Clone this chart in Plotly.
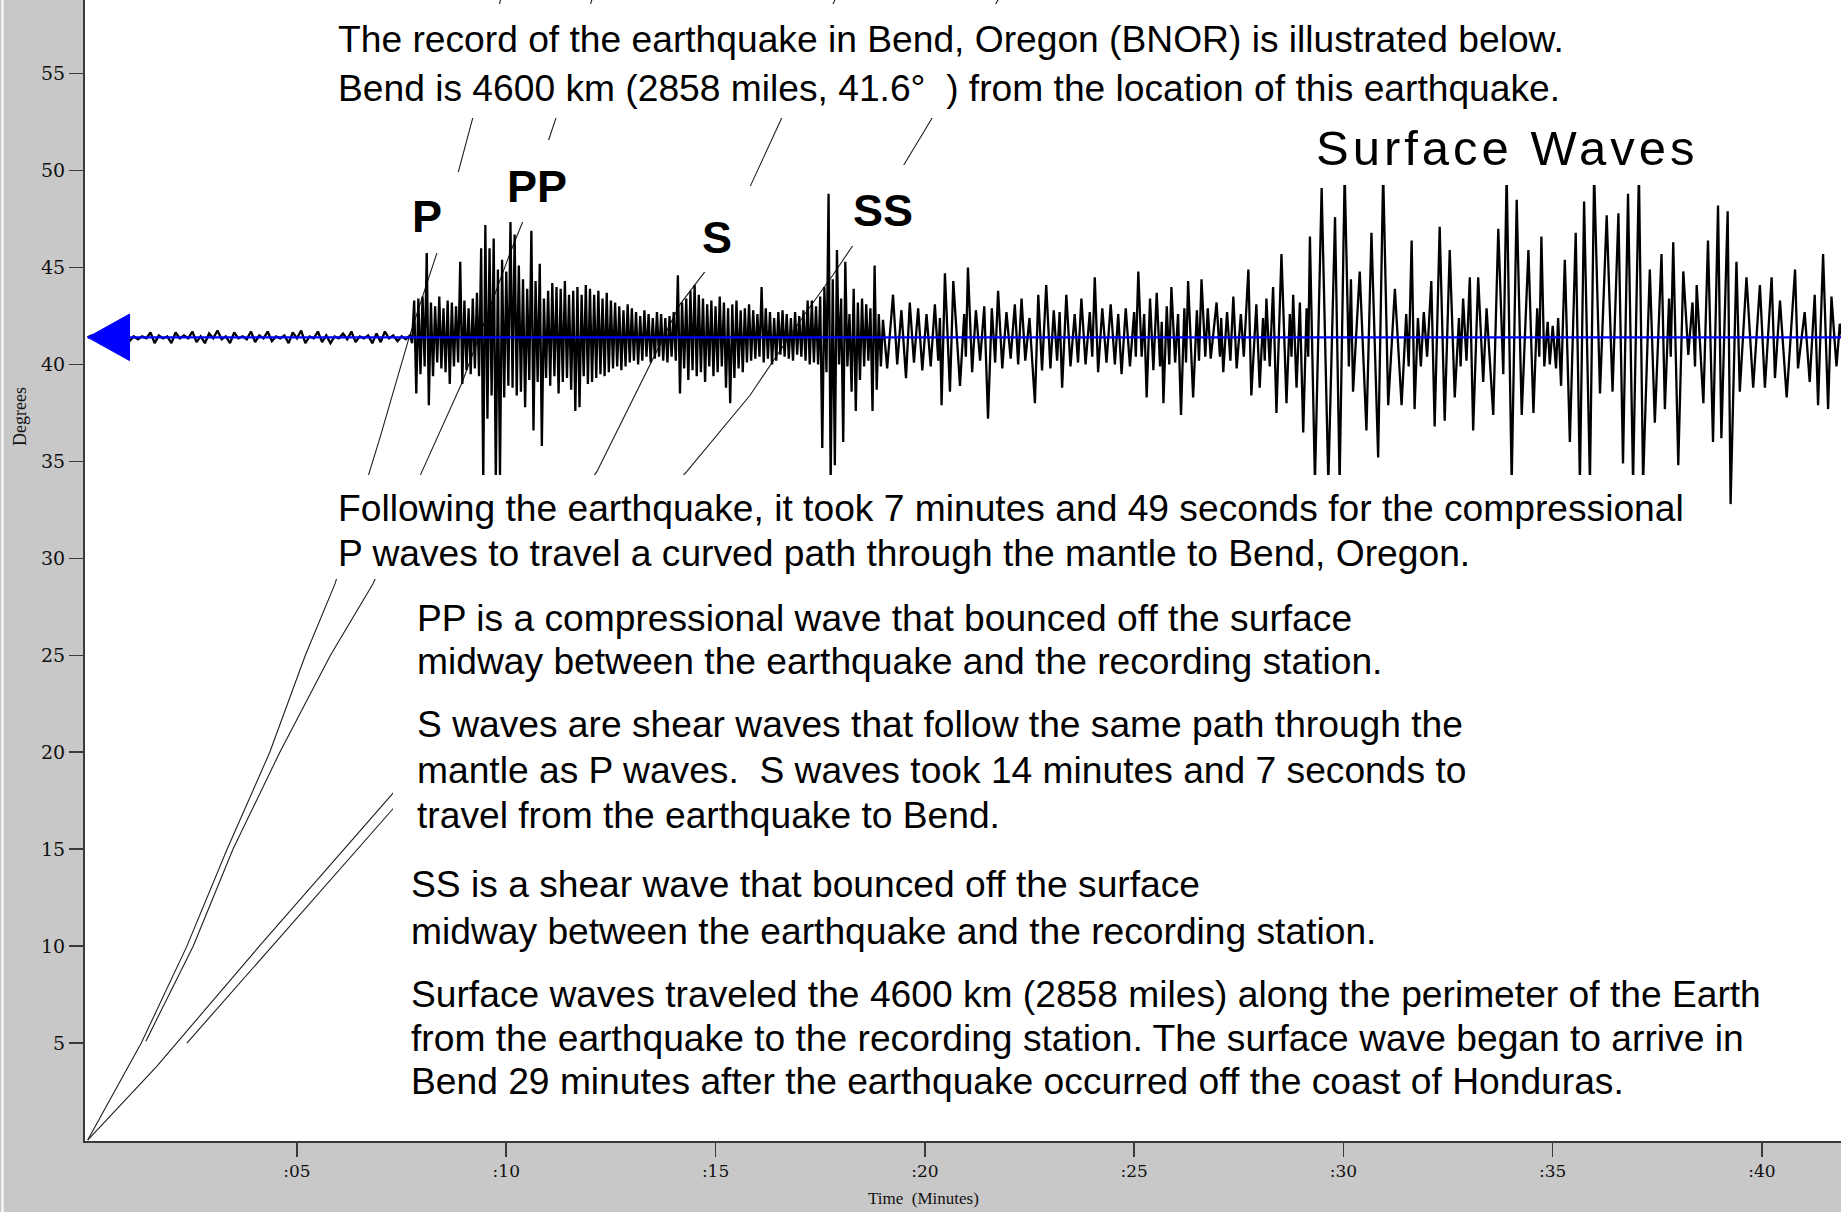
import plotly.graph_objects as go

# ---------------- data ----------------
BASE_DEG = 41.4          # station distance marker line (Bend, 41.6 deg)

# pre-P background noise, from 0.0 min every 0.1 min (offset in degrees)
noise_amp = [0.0, 0.1, -0.05, 0.2, -0.25, 0.05, -0.05, 0.1, -0.05, 0.3,
             -0.2, 0.05, -0.1, 0.05, -0.05, 0.25, -0.3, 0.1, -0.05, 0.05,
             -0.3, 0.25, -0.05, 0.1, -0.05, 0.3, -0.25, 0.05, -0.3, 0.2,
             -0.05, 0.35, -0.1, 0.05, -0.3, 0.25, -0.05, 0.05, -0.1, 0.3,
             -0.25, 0.1, -0.05, 0.3, -0.2, 0.05, -0.05, 0.1, -0.3, 0.25,
             -0.05, 0.35, -0.3, 0.05, -0.05, 0.3, -0.25, 0.1, -0.3, 0.05,
             -0.05, 0.2, -0.1, 0.3, -0.25, 0.05, -0.05, 0.1, -0.3, 0.2,
             -0.25, 0.3, -0.05, 0.1, -0.2, 0.05, -0.1]
NOISE_DT = 0.1

# P onset through SS, from 7.70 min every 0.05 min
CODA_T0 = 7.70
CODA_DT = 0.05
coda_amp = [
    0.1, -0.3, 1.9, -2.9, 2.0, -1.9, 2.1, -1.5, 4.4, -3.5, 1.8, -2.0, 1.6, -1.3, 2.1, -1.6, 1.5, -1.8, 1.9, -2.4,
    1.8, -1.5, 1.6, -1.3, 3.9, -2.4, 1.9, -1.7, 1.5, -1.9, 2.0, -1.6, 2.3, -2.0, 4.6, -7.5, 5.8, -4.2, 4.6, -3.0,
    5.1, -7.5, 3.5, -7.2, 4.0, -3.1, 3.4, -2.5, 6.0, -2.6, 5.3, -3.0, 3.7, -2.8, 3.0, -3.6, 2.5, -2.2, 5.5, -4.8,
    2.9, -2.3, 3.8, -5.6, 2.0, -2.1, 2.4, -2.5, 2.8, -2.0, 2.6, -2.9, 2.5, -2.3, 2.9, -2.1, 2.2, -2.7, 2.4, -3.8,
    2.6, -3.6, 2.2, -2.0, 2.7, -2.4, 2.5, -2.3, 2.2, -2.1, 2.4, -1.9, 2.0, -2.0, 2.3, -1.8, 1.9, -1.6, 1.8, -1.5,
    1.6, -1.7, 1.4, -1.5, 1.7, -1.3, 1.5, -1.2, 1.3, -1.4, 1.1, -1.2, 1.4, -1.0, 1.2, -1.3, 1.0, -1.1, 1.3, -1.0,
    1.2, -1.2, 1.0, -1.3, 1.1, -1.0, 1.3, -1.2, 3.2, -2.9, 1.8, -1.6, 2.0, -2.2, 2.4, -1.7, 2.7, -2.0, 2.2, -1.8,
    2.0, -2.3, 1.7, -1.5, 1.9, -2.0, 1.6, -1.8, 2.1, -1.5, 1.8, -2.6, 1.5, -3.4, 1.7, -2.1, 1.9, -1.6, 1.4, -1.8,
    1.5, -1.3, 1.7, -1.2, 1.4, -1.1, 1.2, -1.0, 2.6, -1.3, 1.5, -1.1, 1.3, -1.4, 1.0, -1.2, 1.3, -0.9, 1.4, -1.0,
    1.2, -1.1, 1.0, -1.2, 1.3, -0.9, 1.1, -1.0, 1.4, -1.2, 1.9, -1.4, 1.9, -1.3, 1.6, -1.4, 2.1, -5.7, 2.6, -1.8,
    7.4, -7.5, 3.0, -6.6, 4.5, -1.4, 2.0, -5.4, 3.9, -1.5, 1.2, -2.8, 2.5, -3.8, 1.8, -2.2, 2.0, -1.5, 1.7, -1.2,
    1.5, -3.8, 3.7, -2.7, 1.2, -1.5,
]

# later coda and surface waves: time of each swing (min) and its amplitude (deg)
swing_t = [
    19.00, 19.10, 19.24, 19.34, 19.44, 19.55, 19.64, 19.74, 19.84, 19.94,
    20.04, 20.14, 20.24, 20.32, 20.36, 20.40, 20.48, 20.60, 20.68, 20.84,
    20.94, 20.98, 21.03, 21.13, 21.22, 21.32, 21.42, 21.51, 21.60, 21.68,
    21.75, 21.85, 21.95, 22.05, 22.15, 22.23, 22.31, 22.40, 22.50, 22.63,
    22.71, 22.80, 22.90, 23.00, 23.08, 23.16, 23.22, 23.28, 23.38, 23.48,
    23.58, 23.66, 23.74, 23.84, 23.94, 24.00, 24.06, 24.14, 24.24, 24.34,
    24.44, 24.54, 24.62, 24.70, 24.80, 24.90, 25.00, 25.04, 25.10, 25.18,
    25.24, 25.30, 25.38, 25.46, 25.54, 25.62, 25.66, 25.70, 25.78, 25.84,
    25.89, 25.98, 26.05, 26.12, 26.20, 26.24, 26.29, 26.41, 26.50, 26.55,
    26.61, 26.70, 26.76, 26.83, 26.97, 27.05, 27.08, 27.13, 27.22, 27.30,
    27.37, 27.45, 27.55, 27.62, 27.73, 27.80, 27.92, 28.00, 28.08, 28.12,
    28.16, 28.24, 28.32, 28.40, 28.52, 28.64, 28.72, 28.76, 28.80, 28.88,
    28.96, 29.04, 29.12, 29.16, 29.20, 29.32, 29.48, 29.64, 29.80, 29.91,
    30.03, 30.13, 30.18, 30.23, 30.39, 30.55, 30.67, 30.83, 30.95, 31.07,
    31.23, 31.39, 31.50, 31.56, 31.63, 31.70, 31.78, 31.85, 31.92, 32.00,
    32.10, 32.18, 32.30, 32.42, 32.54, 32.66, 32.76, 32.80, 32.86, 32.94,
    33.02, 33.10, 33.22, 33.34, 33.42, 33.58, 33.70, 33.82, 33.90, 34.02,
    34.14, 34.26, 34.42, 34.54, 34.63, 34.68, 34.73, 34.80, 34.88, 34.93,
    35.00, 35.08, 35.13, 35.20, 35.29, 35.41, 35.55, 35.65, 35.75, 35.89,
    35.99, 36.13, 36.29, 36.43, 36.57, 36.68, 36.80, 36.92, 37.06, 37.16,
    37.32, 37.44, 37.60, 37.68, 37.78, 37.82, 37.88, 38.00, 38.12, 38.24,
    38.34, 38.40, 38.44, 38.60, 38.71, 38.83, 38.95, 39.03, 39.18, 39.25,
    39.39, 39.47, 39.63, 39.79, 39.95, 40.07, 40.23, 40.31, 40.43, 40.59,
    40.79, 40.86, 41.02, 41.14, 41.26, 41.34, 41.46, 41.58, 41.66, 41.78,
    41.86, 41.95,
]
swing_amp = [
    0.9, -1.6, 2.2, -1.4, 1.4, -2.1, 1.8, -1.3, 1.5, -1.7,
    1.2, -1.5, 1.7, -1.2, 1.0, -3.5, 3.3, -2.8, 2.9, -2.5,
    1.2, -1.0, 3.6, -1.8, 1.4, -1.2, 1.6, -4.2, 1.5, -1.3,
    2.4, -1.6, 1.3, -1.1, 1.7, -1.4, 2.0, -1.2, 1.0, -3.4,
    2.2, -1.7, 2.7, -1.6, 1.4, -1.2, 1.3, -2.6, 2.2, -1.5,
    1.2, -1.3, 2.0, -1.4, 1.3, -1.0, 3.1, -1.8, 1.5, -1.3,
    1.7, -1.4, 1.2, -1.9, 1.5, -1.5, 1.3, -1.0, 3.4, -1.0,
    1.2, -3.1, 2.0, -1.7, 2.3, -1.5, 0.8, -3.4, 1.6, -1.4,
    2.6, -1.3, 1.2, -4.0, 1.5, -1.3, 2.9, -3.1, 1.4, -1.2,
    3.0, -1.0, 1.5, -1.1, 1.8, -1.0, 1.0, -1.8, 1.3, -1.2,
    2.1, -1.6, 1.2, -1.0, 3.5, -3.0, 1.7, -2.6, 1.0, -1.2,
    2.0, -1.5, 2.6, -3.9, 4.3, -3.4, 1.2, -1.0, 2.2, -2.6,
    1.8, -4.9, 1.5, -1.0, 5.2, -7.5, 7.7, -7.5, 6.2, -7.5,
    8.5, -1.5, 3.0, -2.8, 3.4, -4.8, 5.4, -6.2, 8.5, -3.5,
    2.5, -3.5, 1.2, -1.5, 5.0, -3.7, 1.0, -1.5, 1.3, -1.0,
    2.9, -4.6, 5.7, -4.3, 4.5, -3.1, 1.0, -1.5, 2.0, -1.2,
    3.1, -4.8, 3.1, -2.3, 1.5, -4.0, 5.6, -1.9, 8.5, -7.5,
    7.1, -4.0, 4.5, -3.9, 1.5, -1.0, 5.2, -1.5, 0.8, -1.4,
    0.6, -1.6, 1.0, -2.5, 4.0, -5.4, 5.4, -7.5, 7.0, -7.5,
    8.5, -2.9, 6.3, -2.8, 6.4, -6.5, 7.4, -7.5, 8.5, -7.5,
    3.5, -4.4, 4.3, -3.7, 2.0, -1.0, 4.9, -6.6, 3.4, -0.9,
    1.8, -1.5, 2.7, -3.4, 5.0, -5.4, 6.8, -5.2, 6.5, -8.6,
    3.9, -2.8, 3.1, -2.6, 2.7, -2.6, 3.1, -2.1, 1.9, -3.1,
    3.5, -1.6, 1.3, -2.3, 2.2, -3.5, 4.3, -3.7, 2.1, -1.5,
    0.7, -0.5,
]

# travel-time curves: distance (deg) vs arrival time (min)
p_deg = [0, 5, 10, 15, 20, 25, 28.7, 34.5, 36.2, 41.4, 43.6, 45.8, 49.9, 52.8, 58.7, 60]
p_min = [0, 1.28, 2.37, 3.33, 4.35, 5.2, 5.91, 6.75, 6.98, 7.68, 8.01, 8.35, 8.85, 9.21, 9.85, 10.0]
pp_deg = [5.1, 10, 15, 20, 25, 28.7, 34.5, 39.1, 45.8, 47.4, 51.5, 52.8, 58.7, 60]
pp_min = [1.39, 2.52, 3.47, 4.59, 5.8, 6.82, 7.99, 8.95, 10.1, 10.4, 11.0, 11.2, 12.03, 12.2]
s_deg = [0, 3.8, 10, 17.9, 34.5, 40.7, 43.1, 44.8, 49.2, 52.8, 58.7, 60]
s_min = [0, 1.65, 4.1, 7.3, 12.17, 13.6, 14.15, 14.75, 15.83, 16.6, 17.83, 18.1]
ss_deg = [5.0, 10, 17.1, 34.5, 38.4, 42.5, 44.6, 46.2, 50.3, 52.8, 58.7, 60]
ss_min = [2.37, 4.41, 7.3, 14.32, 15.82, 17.1, 17.8, 18.3, 19.5, 20.2, 21.72, 22.1]

x_tick_vals = [5, 10, 15, 20, 25, 30, 35, 40]
x_tick_text = [":05", ":10", ":15", ":20", ":25", ":30", ":35", ":40"]
y_tick_vals = [5, 10, 15, 20, 25, 30, 35, 40, 45, 50, 55]

# ---------------- geometry helpers (pixel layout) ----------------
W, H = 1841, 1212
PL, PB = 85, 71
PLOT_H = H - PB
PX_PER_MIN = 41.857
X0_PX = 87.7
Y_TOP = 58.8
DEG_PER_PX = 58.85 / PLOT_H


def t_of(px):
    return (px - X0_PX) / PX_PER_MIN


def d_of(py):
    return Y_TOP - py * DEG_PER_PX


SANS = "Liberation Sans, Arial, Helvetica, sans-serif"
SERIF = "Liberation Serif, Times New Roman, serif"
TICKF = "DejaVu Serif, Liberation Serif, serif"

# ---------------- build trace ----------------
seis_x = [i * NOISE_DT for i in range(len(noise_amp))]
seis_y = [BASE_DEG + a for a in noise_amp]
seis_x += [CODA_T0 + i * CODA_DT for i in range(len(coda_amp))]
seis_y += [BASE_DEG + a for a in coda_amp]
seis_x += swing_t
seis_y += [BASE_DEG + a for a in swing_amp]

fig = go.Figure()
CURVE = dict(color="#1e1e1e", width=1.1)
for dd, tt in [(p_deg, p_min), (pp_deg, pp_min), (s_deg, s_min), (ss_deg, ss_min)]:
    fig.add_trace(go.Scatter(x=tt, y=dd, mode="lines", line=CURVE, hoverinfo="skip"))

fig.add_trace(go.Scatter(x=seis_x, y=seis_y, mode="lines",
                         line=dict(color="black", width=2.3), hoverinfo="skip"))
# station line
fig.add_trace(go.Scatter(x=[0, t_of(W + 5)], y=[BASE_DEG, BASE_DEG], mode="lines",
                         line=dict(color="#0000ff", width=2.2), hoverinfo="skip"))
# arrow head
ARROW_LEN = 1.0
ARROW_HALF = 1.2
fig.add_trace(go.Scatter(x=[0, ARROW_LEN, ARROW_LEN, 0],
                         y=[BASE_DEG, BASE_DEG + ARROW_HALF, BASE_DEG - ARROW_HALF, BASE_DEG],
                         mode="lines", fill="toself", fillcolor="#0000ff",
                         line=dict(color="#0000ff", width=1), hoverinfo="skip"))

# white masks behind the texts
masks = [
    (325, 4, 1575, 118),      # top text
    (405, 172, 462, 253),     # P
    (500, 140, 575, 222),     # PP
    (697, 186, 755, 272),     # S
    (850, 165, 916, 246),     # SS
    (1305, 118, 1712, 185),   # Surface Waves
    (328, 475, 1697, 579),    # first explanation
    (393, 579, 1841, 1120),   # lower explanations
]
shapes = []
for x0, y0, x1, y1 in masks:
    shapes.append(dict(type="rect", xref="x", yref="y", x0=t_of(x0), x1=t_of(x1),
                       y0=d_of(y1), y1=d_of(y0), fillcolor="white",
                       line=dict(width=0), layer="above"))
# thin white line at the far left of the grey frame
shapes.append(dict(type="line", xref="paper", yref="paper", x0=(2.5 - PL) / (W - PL),
                   x1=(2.5 - PL) / (W - PL), y0=-PB / PLOT_H, y1=1,
                   line=dict(color="white", width=2)))

annotations = []


def txt(s, px, py, size=37, anchor="left", bold=False, family=SANS, angle=0):
    annotations.append(dict(text=("<b>%s</b>" % s) if bold else s, x=t_of(px), y=d_of(py),
                            xref="x", yref="y", xanchor=anchor, yanchor="middle",
                            showarrow=False, textangle=angle,
                            font=dict(family=family, size=size, color="black")))


txt("The record of the earthquake in Bend, Oregon (BNOR) is illustrated below.", 336, 39, size=37.2)
txt("Bend is 4600 km (2858 miles, 41.6°  ) from the location of this earthquake.", 336, 88, size=37.2)
txt("P", 427, 216, size=45, anchor="center", bold=True)
txt("PP", 537, 186, size=45, anchor="center", bold=True)
txt("S", 717, 237, size=45, anchor="center", bold=True)
txt("SS", 883, 210, size=45, anchor="center", bold=True)
txt("Surface Waves", 1507, 148, size=49, anchor="center")
txt("Following the earthquake, it took 7 minutes and 49 seconds for the compressional", 336, 508, size=37.2)
txt("P waves to travel a curved path through the mantle to Bend, Oregon.", 336, 553, size=37.2)
txt("PP is a compressional wave that bounced off the surface", 415, 618, size=37.2)
txt("midway between the earthquake and the recording station.", 415, 661, size=37.2)
txt("S waves are shear waves that follow the same path through the", 415, 724, size=37.2)
txt("mantle as P waves.  S waves took 14 minutes and 7 seconds to", 415, 770, size=37.2)
txt("travel from the earthquake to Bend.", 415, 815, size=37.2)
txt("SS is a shear wave that bounced off the surface", 409, 884, size=37.2)
txt("midway between the earthquake and the recording station.", 409, 931, size=37.2)
txt("Surface waves traveled the 4600 km (2858 miles) along the perimeter of the Earth", 409, 994, size=37.2)
txt("from the earthquake to the recording station. The surface wave began to arrive in", 409, 1038, size=37.2)
txt("Bend 29 minutes after the earthquake occurred off the coast of Honduras.", 409, 1081, size=37.2)

# axis titles (placed where the original puts them)
annotations.append(dict(text="Time  (Minutes)", xref="paper", yref="paper",
                        x=(923 - PL) / (W - PL), y=-(1198 - PLOT_H) / PLOT_H,
                        xanchor="center", yanchor="middle", showarrow=False,
                        font=dict(family=SERIF, size=17, color="#111")))
annotations.append(dict(text="Degrees", xref="paper", yref="paper",
                        x=(20 - PL) / (W - PL), y=1 - 417 / PLOT_H, textangle=-90,
                        xanchor="center", yanchor="middle", showarrow=False,
                        font=dict(family=SERIF, size=18, color="#111")))

AX = dict(showgrid=False, zeroline=False, showline=True, linecolor="#3a3a3a", linewidth=2,
          ticks="outside", ticklen=14, tickwidth=1.6, tickcolor="#3a3a3a", fixedrange=True)

fig.update_layout(
    width=W, height=H,
    margin=dict(l=PL, r=0, t=0, b=PB, pad=0),
    paper_bgcolor="#c8c8c8", plot_bgcolor="white",
    showlegend=False,
    xaxis=dict(AX, range=[t_of(PL), t_of(W)], tickvals=x_tick_vals, ticktext=x_tick_text,
               tickfont=dict(family=TICKF, size=17, color="#111")),
    yaxis=dict(AX, range=[d_of(PLOT_H), Y_TOP], tickvals=y_tick_vals,
               tickfont=dict(family=TICKF, size=19, color="#111")),
    shapes=shapes, annotations=annotations,
)

post = ("document.body.style.margin='0';document.body.style.overflow='hidden';"
        "document.querySelectorAll('.annotation-text').forEach(function(e){"
        "if(e.textContent==='Surface Waves'){e.style.letterSpacing='4px';}});")
fig.write_html("out.html", include_plotlyjs=True, full_html=True,
               config={"displayModeBar": False, "staticPlot": True}, post_script=post)
